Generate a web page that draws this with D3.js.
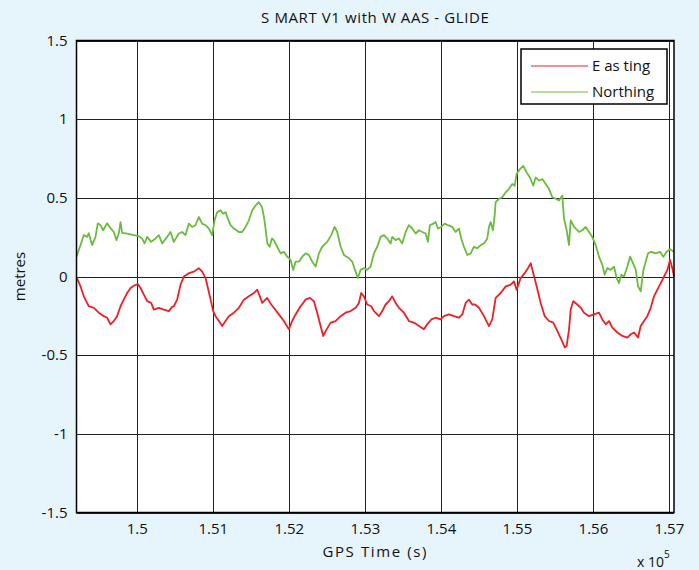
<!DOCTYPE html>
<html lang="en">
<head>
<meta charset="utf-8">
<title>SMART V1 with WAAS - GLIDE</title>
<script src="https://cdn.jsdelivr.net/npm/d3@7"></script>
<style>
    body { margin: 0; background: #e6f4fc; }
    text { font-family: "Open Sans", "DejaVu Sans", sans-serif; fill: #111; }
</style>
</head>
<body>
<script>
// data (time in s, values in metres)
var xTicks = [150000, 151000, 152000, 153000, 154000, 155000, 156000, 157000];
var xTickLabels = ["1.5", "1.51", "1.52", "1.53", "1.54", "1.55", "1.56", "1.57"];
var yTicks = [-1.5, -1, -0.5, 0, 0.5, 1, 1.5];
var yTickLabels = ["-1.5", "-1", "-0.5", "0", "0.5", "1", "1.5"];

var eastTime = [149200,149253,149296,149362,149428,149493,149559,149603,149647,149691,149734,149779,149822,149866,149911,149954,150007,150042,150086,150129,150182,150217,150283,150349,150415,150458,
    150480,150524,150569,150612,150678,150744,150809,150853,150898,150919,150954,150998,151029,151073,151116,151161,151204,151270,151336,151402,151468,151533,151577,151612,151643,151708,151761,
    151796,151862,151928,151994,152037,152082,152148,152214,152270,152323,152366,152411,152445,152490,152543,152608,152674,152740,152806,152872,152915,152945,152981,153024,153077,
    153113,153178,153222,153266,153310,153353,153398,153441,153507,153573,153639,153705,153770,153814,153867,153924,153990,154034,154100,154165,154231,154275,154319,154363,154406,
    154441,154494,154560,154626,154669,154714,154780,154846,154912,154955,154990,155043,155096,155139,155175,155209,155254,155306,155359,155415,155472,155525,155577,155622,155648,155679,155701,155735,
    155788,155833,155876,155942,156008,156073,156117,156162,156205,156249,156315,156380,156446,156491,156534,156587,156622,156666,156709,156754,156797,156841,156886,156929,156973,157008,157038,157060];
var eastValues = [-0.004,-0.063,-0.126,-0.189,-0.199,-0.230,-0.252,-0.262,-0.304,-0.283,-0.252,-0.189,-0.147,-0.105,-0.073,-0.059,-0.048,-0.073,-0.115,-0.157,-0.168,-0.210,-0.199,-0.210,-0.220,-0.193,
    -0.189,-0.147,-0.052,0.000,0.021,0.031,0.053,0.031,-0.010,-0.052,-0.126,-0.220,-0.252,-0.283,-0.315,-0.283,-0.252,-0.230,-0.199,-0.147,-0.126,-0.105,-0.084,-0.126,-0.168,-0.136,-0.178,
    -0.199,-0.241,-0.283,-0.336,-0.283,-0.241,-0.189,-0.147,-0.136,-0.157,-0.230,-0.315,-0.378,-0.336,-0.293,-0.283,-0.252,-0.230,-0.220,-0.199,-0.168,-0.105,-0.126,-0.178,-0.189,
    -0.220,-0.252,-0.220,-0.178,-0.157,-0.126,-0.168,-0.199,-0.230,-0.283,-0.293,-0.315,-0.336,-0.304,-0.273,-0.262,-0.273,-0.252,-0.241,-0.252,-0.262,-0.241,-0.168,-0.147,-0.178,
    -0.178,-0.199,-0.252,-0.315,-0.273,-0.136,-0.105,-0.063,-0.052,-0.031,-0.084,-0.010,0.021,0.053,0.084,0.021,-0.063,-0.168,-0.252,-0.283,-0.293,-0.346,-0.399,-0.451,-0.441,-0.336,-0.210,-0.157,
    -0.178,-0.199,-0.230,-0.252,-0.241,-0.230,-0.273,-0.304,-0.283,-0.325,-0.356,-0.378,-0.388,-0.367,-0.356,-0.388,-0.315,-0.283,-0.252,-0.199,-0.126,-0.084,-0.042,0.000,0.042,0.105,0.053,0.000];

var northTime = [149200,149253,149296,149339,149362,149405,149450,149480,149516,149550,149603,149647,149691,149726,149757,149779,149800,149866,149954,150020,150063,150095,150129,150182,150240,150283,150327,150393,150437,150480,
    150546,150590,150634,150678,150721,150766,150809,150853,150898,150941,150985,151016,151051,151095,151129,151161,151191,151227,151270,151336,151379,151424,151468,151511,151556,151599,151640,151666,151684,151710,151741,151771,
    151796,151840,151885,151928,151972,152016,152051,152082,152126,152169,152214,152257,152301,152346,152389,152432,152498,152551,152595,152630,152675,152718,152784,152827,152872,152902,152937,152981,153024,153069,153113,
    153156,153201,153244,153288,153332,153353,153398,153441,153485,153530,153573,153617,153661,153705,153748,153793,153823,153849,153893,153924,153955,153998,154043,154086,154143,154188,154231,154261,154297,154340,154385,154428,
    154472,154517,154560,154604,154626,154648,154678,154701,154714,154758,154801,154846,154889,154933,154964,154990,155034,155077,155122,155165,155209,155240,155284,155327,155372,155415,155459,155504,155547,155591,155613,155648,155679,155701,155745,
    155810,155854,155898,155942,155985,156030,156073,156117,156148,156183,156227,156271,156306,156337,156367,156403,156446,156482,156512,156557,156587,156622,156657,156688,156718,156762,156820,156876,156920,156964,157008,157060];
var northValues = [0.126,0.200,0.263,0.252,0.275,0.200,0.252,0.338,0.326,0.294,0.338,0.307,0.283,0.231,0.275,0.346,0.277,0.273,0.263,0.256,0.242,0.210,0.252,0.220,0.242,0.263,0.210,0.252,0.283,0.220,
    0.273,0.283,0.263,0.336,0.315,0.326,0.378,0.336,0.326,0.305,0.263,0.357,0.409,0.420,0.399,0.409,0.368,0.326,0.305,0.283,0.283,0.315,0.357,0.420,0.452,0.472,0.441,0.378,0.315,0.210,0.189,0.242,
    0.231,0.189,0.147,0.157,0.126,0.105,0.042,0.094,0.094,0.126,0.147,0.137,0.094,0.063,0.147,0.189,0.220,0.263,0.315,0.283,0.189,0.137,0.116,0.094,0.031,-0.010,0.042,0.053,0.042,0.063,0.147,
    0.189,0.252,0.263,0.242,0.210,0.252,0.231,0.242,0.210,0.283,0.326,0.305,0.273,0.294,0.283,0.273,0.220,0.326,0.336,0.346,0.305,0.315,0.336,0.326,0.315,0.283,0.305,0.242,0.189,0.137,0.147,0.189,
    0.179,0.200,0.210,0.242,0.315,0.346,0.294,0.389,0.472,0.494,0.504,0.535,0.557,0.588,0.577,0.651,0.683,0.703,0.661,0.630,0.577,0.630,0.609,0.620,0.588,0.557,0.504,0.494,0.483,0.514,0.368,0.294,0.200,0.357,0.315,
    0.283,0.294,0.315,0.283,0.252,0.200,0.126,0.074,0.011,0.053,0.042,0.063,-0.010,-0.042,0.011,0.000,0.063,0.126,0.094,0.042,-0.063,-0.094,0.042,0.094,0.147,0.157,0.147,0.157,0.126,0.157,0.173,0.157];

var seriesNames = ["E as ting", "Northing"];
var seriesColors = ["#ee1f26", "#6bbb3e"];

var W = 699, H = 570;
var plotL = 76.5, plotR = 674, plotT = 40.5, plotB = 512.5;

var svg = d3.select("body").append("svg")
    .attr("width", W)
    .attr("height", H);

var x = d3.scaleLinear().domain([149200, 157060]).range([plotL, plotR]);
var y = d3.scaleLinear().domain([-1.5, 1.5]).range([plotB, plotT]);

// plot background
svg.append("rect")
    .attr("x", plotL).attr("y", plotT)
    .attr("width", plotR - plotL).attr("height", plotB - plotT)
    .attr("fill", "#fff");

// grid
svg.append("g").selectAll("line").data(xTicks).enter().append("line")
    .attr("x1", d => Math.round(x(d)) + 0.5).attr("x2", d => Math.round(x(d)) + 0.5)
    .attr("y1", plotT).attr("y2", plotB)
    .attr("stroke", "#222").attr("stroke-width", 1);
svg.append("g").selectAll("line").data(yTicks).enter().append("line")
    .attr("x1", plotL).attr("x2", plotR)
    .attr("y1", d => Math.round(y(d)) + 0.5).attr("y2", d => Math.round(y(d)) + 0.5)
    .attr("stroke", "#222").attr("stroke-width", 1);

// series
var line = d3.line()
    .x(d => x(d[0]))
    .y(d => y(d[1]));

svg.append("path")
    .datum(d3.zip(northTime, northValues))
    .attr("d", line)
    .attr("fill", "none")
    .attr("stroke", seriesColors[1])
    .attr("stroke-width", 1.8)
    .attr("stroke-linejoin", "round");

svg.append("path")
    .datum(d3.zip(eastTime, eastValues))
    .attr("d", line)
    .attr("fill", "none")
    .attr("stroke", seriesColors[0])
    .attr("stroke-width", 1.8)
    .attr("stroke-linejoin", "round");

// frame
svg.append("rect")
    .attr("x", plotL).attr("y", plotT)
    .attr("width", plotR - plotL).attr("height", plotB - plotT)
    .attr("fill", "none")
    .attr("stroke", "#000").attr("stroke-width", 1.5);

// tick labels
svg.append("g").selectAll("text").data(xTicks).enter().append("text")
    .attr("x", d => x(d))
    .attr("y", plotB + 21)
    .attr("text-anchor", "middle")
    .attr("font-size", 15)
    .text((d, i) => xTickLabels[i]);

svg.append("g").selectAll("text").data(yTicks).enter().append("text")
    .attr("x", plotL - 9)
    .attr("y", d => y(d) + 5)
    .attr("text-anchor", "end")
    .attr("font-size", 15)
    .text((d, i) => yTickLabels[i]);

// titles
svg.append("text")
    .attr("x", (plotL + plotR) / 2).attr("y", 23)
    .attr("text-anchor", "middle")
    .attr("font-size", 15)
    .attr("letter-spacing", 0.6)
    .text("S MART V1 with W AAS  - GLIDE");

svg.append("text")
    .attr("x", (plotL + plotR) / 2).attr("y", 557)
    .attr("text-anchor", "middle")
    .attr("font-size", 15)
    .attr("letter-spacing", 1.6)
    .text("GPS Time (s)");

svg.append("text")
    .attr("transform", "translate(25," + y(0) + ") rotate(-90)")
    .attr("text-anchor", "middle")
    .attr("font-size", 15)
    .text("metres");

var mult = svg.append("text")
    .attr("x", 637).attr("y", 567)
    .attr("font-size", 14);
mult.append("tspan").text("x 10");
mult.append("tspan").attr("dy", -9).attr("font-size", 10).text("5");

// legend
var lg = svg.append("g").attr("transform", "translate(521,49)");
lg.append("rect")
    .attr("width", 146).attr("height", 55)
    .attr("fill", "#fff")
    .attr("stroke", "#000").attr("stroke-width", 1.5);
seriesNames.forEach(function(name, i) {
    lg.append("line")
        .attr("x1", 10).attr("x2", 67)
        .attr("y1", 17 + i * 26).attr("y2", 17 + i * 26)
        .attr("stroke", seriesColors[i]).attr("stroke-width", 1.2);
    lg.append("text")
        .attr("x", 71).attr("y", 22 + i * 26)
        .attr("font-size", 15)
        .text(name);
});
</script>
</body>
</html>
